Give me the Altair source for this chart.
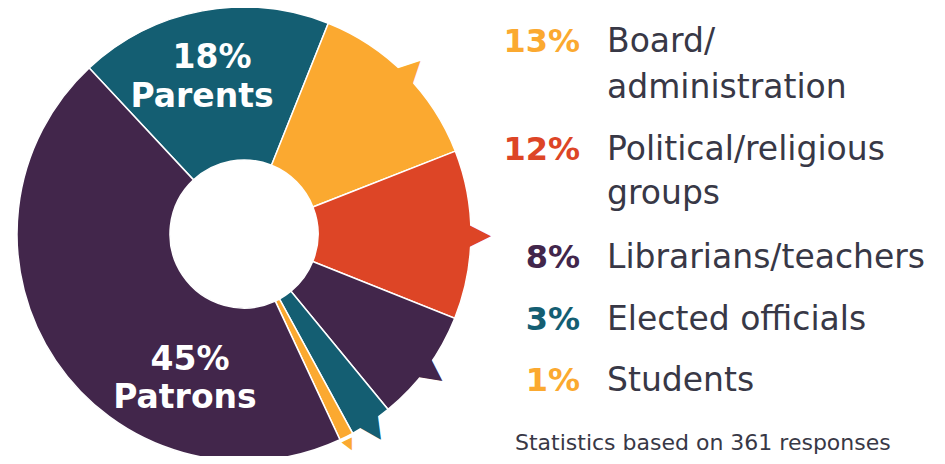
import math
import altair as alt
import pandas as pd

# ---- data ----
categories = ["Parents", "Board/administration", "Political/religious groups",
              "Librarians/teachers", "Elected officials", "Students", "Patrons"]
percents = [18, 13, 12, 8, 3, 1, 45]
slice_colors = ["#145E72", "#FBA930", "#DD4526", "#42264B", "#145E72", "#FBA930", "#42264B"]
has_pointer = [False, True, True, True, True, True, False]

legend_pct = ["13%", "12%", "8%", "3%", "1%"]
legend_lines = [["Board/", "administration"], ["Political/religious", "groups"],
                ["Librarians/teachers"], ["Elected officials"], ["Students"]]
legend_colors = ["#FBA930", "#DD4526", "#42264B", "#145E72", "#FBA930"]
inner_labels = [("18%", "Parents"), ("45%", "Patrons")]
footnote = "Statistics based on 361 responses"

# ---- build table ----
start_deg = -43.0
rows = []
cum = 0
for i, (c, p, ptr) in enumerate(zip(categories, percents, has_pointer)):
    mid = start_deg + 3.6 * (cum + p / 2)
    cum += p
    rows.append({"category": c, "pct": p, "order": i,
                 "glyph": "\u25B6" if ptr else "",
                 "rot": (mid - 90) % 360})
df = pd.DataFrame(rows)

CX, CY = 236, 226
s = math.radians(start_deg)
theta = alt.Theta("pct:Q", stack=True, scale=alt.Scale(range=[s, s + 2 * math.pi]))
color = alt.Color("category:N", scale=alt.Scale(domain=categories, range=slice_colors), legend=None)
order = alt.Order("order:Q")

base = alt.Chart(df)

arcs = base.mark_arc(outerRadius=227, innerRadius=74, stroke="white", strokeWidth=1.5).encode(
    theta=theta, color=color, order=order, x=alt.value(CX), y=alt.value(CY))

pointers = base.mark_text(radius=236, align="center", baseline="middle",
                          font="DejaVu Sans").encode(
    theta=theta, color=color, order=order, text="glyph:N",
    size=alt.condition("datum.pct < 2", alt.value(15), alt.value(29)),
    angle=alt.Angle("rot:Q", scale=None), x=alt.value(CX), y=alt.value(CY))

layers = [arcs, pointers]

def txt(t, x, y, size, color, weight="normal", align="left", baseline="alphabetic"):
    return alt.Chart(pd.DataFrame({"t": [t]})).mark_text(
        font="DejaVu Sans", fontSize=size, fontWeight=weight, color=color,
        align=align, baseline=baseline).encode(
        text="t:N", x=alt.value(x), y=alt.value(y))

# inner labels
layers.append(txt(inner_labels[0][0], 204, 60, 33, "white", "bold", "center"))
layers.append(txt(inner_labels[0][1], 194, 99, 33, "white", "bold", "center"))
layers.append(txt(inner_labels[1][0], 182, 362, 33, "white", "bold", "center"))
layers.append(txt(inner_labels[1][1], 177, 400, 33, "white", "bold", "center"))

# legend
row_baselines = [[44, 90], [152, 196], [260], [322], [383]]
for pct, lines, col, bls in zip(legend_pct, legend_lines, legend_colors, row_baselines):
    layers.append(txt(pct, 572, bls[0], 32, col, "bold", "right"))
    for line, bl in zip(lines, bls):
        layers.append(txt(line, 599, bl, 33, "#383846"))

layers.append(txt(footnote, 507, 447, 22, "#383846", "normal", "left", "bottom"))

chart = alt.layer(*layers).properties(
    width=929, height=448, padding=0,
    autosize=alt.AutoSizeParams(type="none")
).configure_view(stroke=None)

chart.save("out.html", embed_options={"renderer": "svg", "actions": False})
